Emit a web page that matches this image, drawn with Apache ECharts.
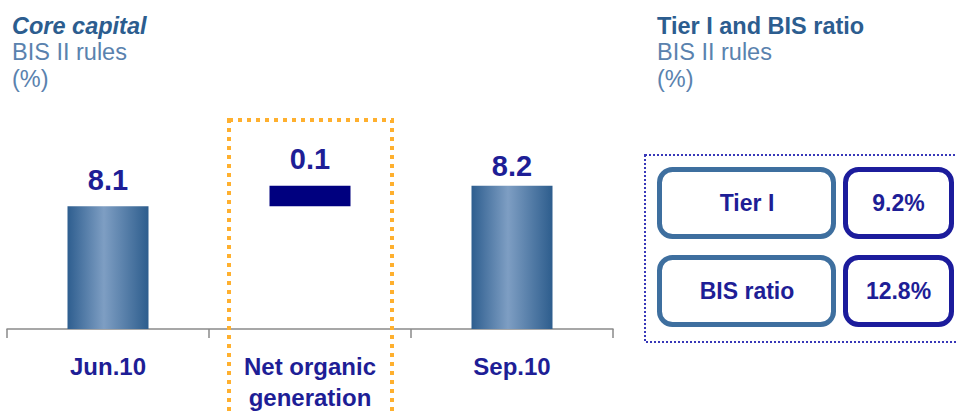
<!DOCTYPE html>
<html>
<head>
<meta charset="utf-8">
<script src="https://cdn.jsdelivr.net/npm/echarts@6/dist/echarts.min.js"></script>
<style>
  html, body { margin: 0; padding: 0; background: #ffffff; }
  #chart { width: 957px; height: 416px; }
</style>
</head>
<body>
<div id="chart"></div>
<script>
// ---- Data ----
const categories = ['Jun.10', 'Net organic\ngeneration', 'Sep.10'];
const offsetValues = [0, 8.1, 0];      // invisible waterfall base
const barValues = [8.1, 0.1, 8.2];      // visible bar values
const valueLabels = ['8.1', '0.1', '8.2'];
const ratioNames = ['Tier I', 'BIS ratio'];
const ratioValues = ['9.2%', '12.8%'];
const leftTitle = ['Core capital', 'BIS II rules', '(%)'];
const rightTitle = ['Tier I and BIS ratio', 'BIS II rules', '(%)'];

const NAVY = '#1E1E96';
const TITLE_BLUE = '#2C5D8F';
const SUB_BLUE = '#5A82AE';
const FONT = '"Liberation Sans", Arial, sans-serif';

const barGradient = new echarts.graphic.LinearGradient(0, 0, 1, 0, [
  { offset: 0, color: '#2E5E8F' },
  { offset: 0.45, color: '#7E9EC3' },
  { offset: 1, color: '#2D5D8D' }
]);

const labelDistances = [12, 12, 5];

const chart = echarts.init(document.getElementById('chart'), null, { renderer: 'svg' });

function titleTexts(x, lines, italic) {
  const ys = [26, 52, 79];
  return lines.map((t, i) => ({
    type: 'text',
    x: x,
    y: ys[i],
    style: {
      text: t,
      font: (i === 0 ? (italic ? 'italic bold ' : 'bold ') : '') + '23.5px ' + FONT,
      fill: i === 0 ? TITLE_BLUE : SUB_BLUE,
      textAlign: 'left',
      textVerticalAlign: 'middle'
    }
  }));
}

const boxRows = [169.5, 257.5];
const boxGraphics = [];
ratioNames.forEach((name, i) => {
  const y = boxRows[i];
  boxGraphics.push({
    type: 'rect',
    shape: { x: 659.5, y: y, width: 174, height: 67, r: 13 },
    style: { fill: '#ffffff', stroke: '#3E6F9F', lineWidth: 5 }
  });
  boxGraphics.push({
    type: 'rect',
    shape: { x: 845.5, y: y, width: 106, height: 67, r: 13 },
    style: { fill: '#ffffff', stroke: '#1C1C9C', lineWidth: 5 }
  });
  boxGraphics.push({
    type: 'text',
    x: 747, y: y + 33.5,
    style: { text: name, font: 'bold 23px ' + FONT, fill: NAVY, textAlign: 'center', textVerticalAlign: 'middle' }
  });
  boxGraphics.push({
    type: 'text',
    x: 898.5, y: y + 33.5,
    style: { text: ratioValues[i], font: 'bold 23px ' + FONT, fill: NAVY, textAlign: 'center', textVerticalAlign: 'middle' }
  });
});

const option = {
  animation: false,
  backgroundColor: '#ffffff',
  grid: { left: 7, right: 344, top: 22, bottom: 87, containLabel: false },
  xAxis: {
    type: 'category',
    data: categories,
    axisLine: { lineStyle: { color: '#8A8A8A', width: 1.5 } },
    axisTick: { show: true, length: 9, interval: 0, lineStyle: { color: '#8A8A8A', width: 1.5 } },
    axisLabel: {
      interval: 0,
      margin: 22,
      color: NAVY,
      fontFamily: FONT,
      fontWeight: 'bold',
      fontSize: 24,
      lineHeight: 31
    }
  },
  yAxis: {
    type: 'value',
    min: 7.5,
    max: 9.0,
    show: false,
    splitLine: { show: false }
  },
  series: [
    {
      type: 'bar',
      stack: 'wf',
      data: offsetValues,
      barWidth: 81,
      itemStyle: { color: 'transparent' },
      silent: true
    },
    {
      type: 'bar',
      stack: 'wf',
      barWidth: 81,
      data: barValues.map((v, i) => ({
        value: v,
        itemStyle: { color: i === 1 ? '#00007F' : barGradient },
        label: {
          show: true,
          position: 'top',
          distance: labelDistances[i],
          formatter: valueLabels[i],
          color: NAVY,
          fontFamily: FONT,
          fontWeight: 'bold',
          fontSize: 29
        }
      }))
    }
  ],
  graphic: [
    {
      type: 'rect',
      z: 10,
      shape: { x: 229, y: 120, width: 163, height: 320 },
      style: { fill: 'none', stroke: '#FFB02E', lineWidth: 4, lineDash: [4, 5] }
    },
    {
      type: 'rect',
      shape: { x: 645, y: 155, width: 330, height: 187 },
      style: { fill: 'none', stroke: '#3838B8', lineWidth: 2, lineDash: [2, 2] }
    },
    ...boxGraphics,
    ...titleTexts(12, leftTitle, true),
    ...titleTexts(657, rightTitle, false)
  ]
};

chart.setOption(option);
</script>
</body>
</html>
